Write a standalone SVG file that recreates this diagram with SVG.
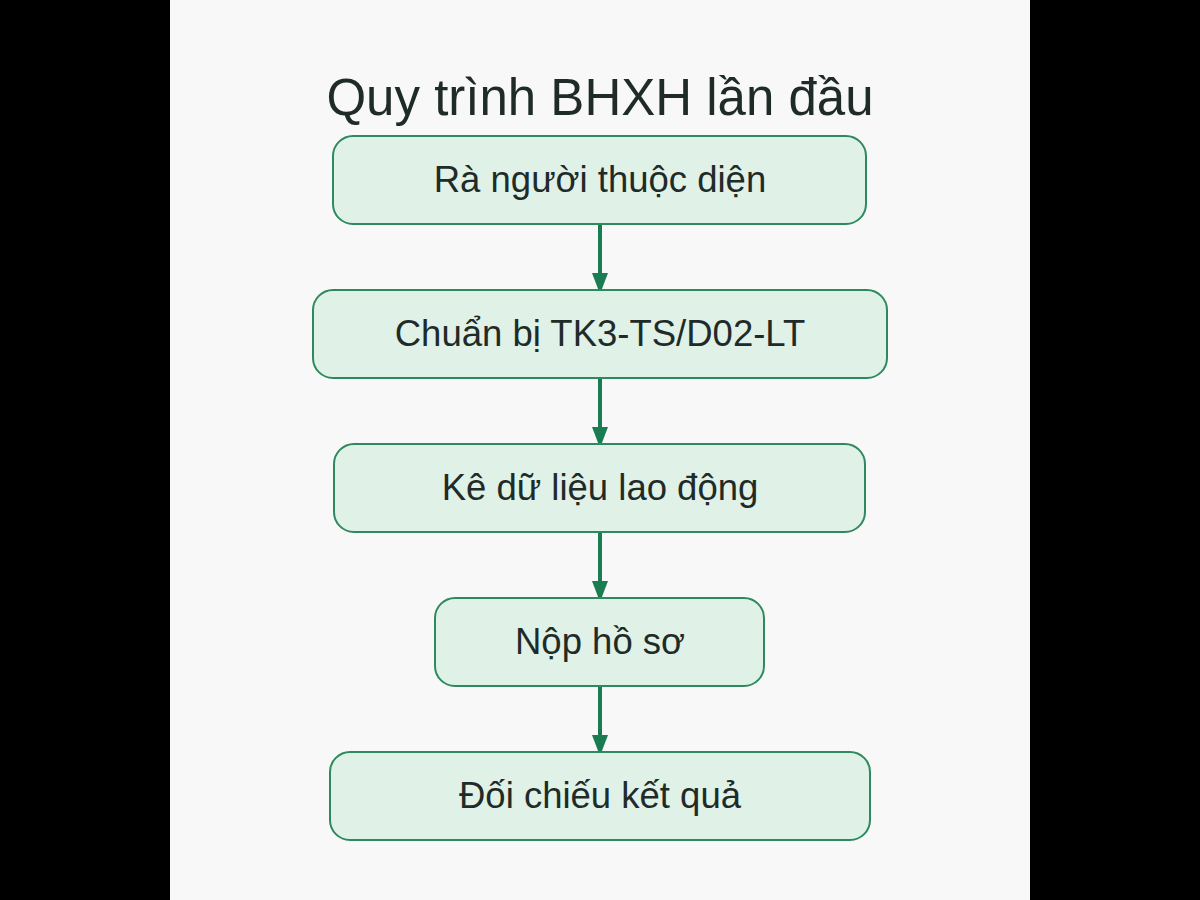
<svg xmlns="http://www.w3.org/2000/svg" width="1200" height="900" viewBox="0 0 1200 900">
<defs>
<style>
.node rect{fill:#e0f1e7;stroke:#2e8a5e;stroke-width:2}
.node text{font-family:"Liberation Sans",Arial,sans-serif;font-size:36.5px;fill:#1f2b28;text-anchor:middle;dominant-baseline:central}
.title{font-family:"Liberation Sans",Arial,sans-serif;font-size:51px;fill:#1f2b28;text-anchor:middle}
.conn line{stroke:#1a7d52;stroke-width:4}
</style>
<marker id="arr" viewBox="0 0 21 16" refX="21" refY="8" markerWidth="21" markerHeight="16" markerUnits="userSpaceOnUse" orient="auto">
<path d="M0,0 L21,8 L0,16 z" fill="#1a7d52"/>
</marker>
</defs>
<rect x="0" y="0" width="1200" height="900" fill="#000"/>
<rect x="170" y="0" width="860" height="900" fill="#f7f8f7"/>
<text class="title" x="600" y="115">Quy trình BHXH lần đầu</text>
<g class="conn">
<line x1="600" y1="224" x2="600" y2="294" marker-end="url(#arr)"/>
<line x1="600" y1="378" x2="600" y2="448" marker-end="url(#arr)"/>
<line x1="600" y1="532" x2="600" y2="602" marker-end="url(#arr)"/>
<line x1="600" y1="686" x2="600" y2="756" marker-end="url(#arr)"/>
</g>
<g id="n1" class="node"><rect x="333" y="136" width="533" height="88" rx="20"/><text x="600" y="179">Rà người thuộc diện</text></g>
<g id="n2" class="node"><rect x="313" y="290" width="574" height="88" rx="20"/><text x="600" y="333">Chuẩn bị TK3-TS/D02-LT</text></g>
<g id="n3" class="node"><rect x="334" y="444" width="531" height="88" rx="20"/><text x="600" y="487">Kê dữ liệu lao động</text></g>
<g id="n4" class="node"><rect x="435" y="598" width="329" height="88" rx="20"/><text x="600" y="641">Nộp hồ sơ</text></g>
<g id="n5" class="node"><rect x="330" y="752" width="540" height="88" rx="20"/><text x="600" y="795">Đối chiếu kết quả</text></g>
</svg>
